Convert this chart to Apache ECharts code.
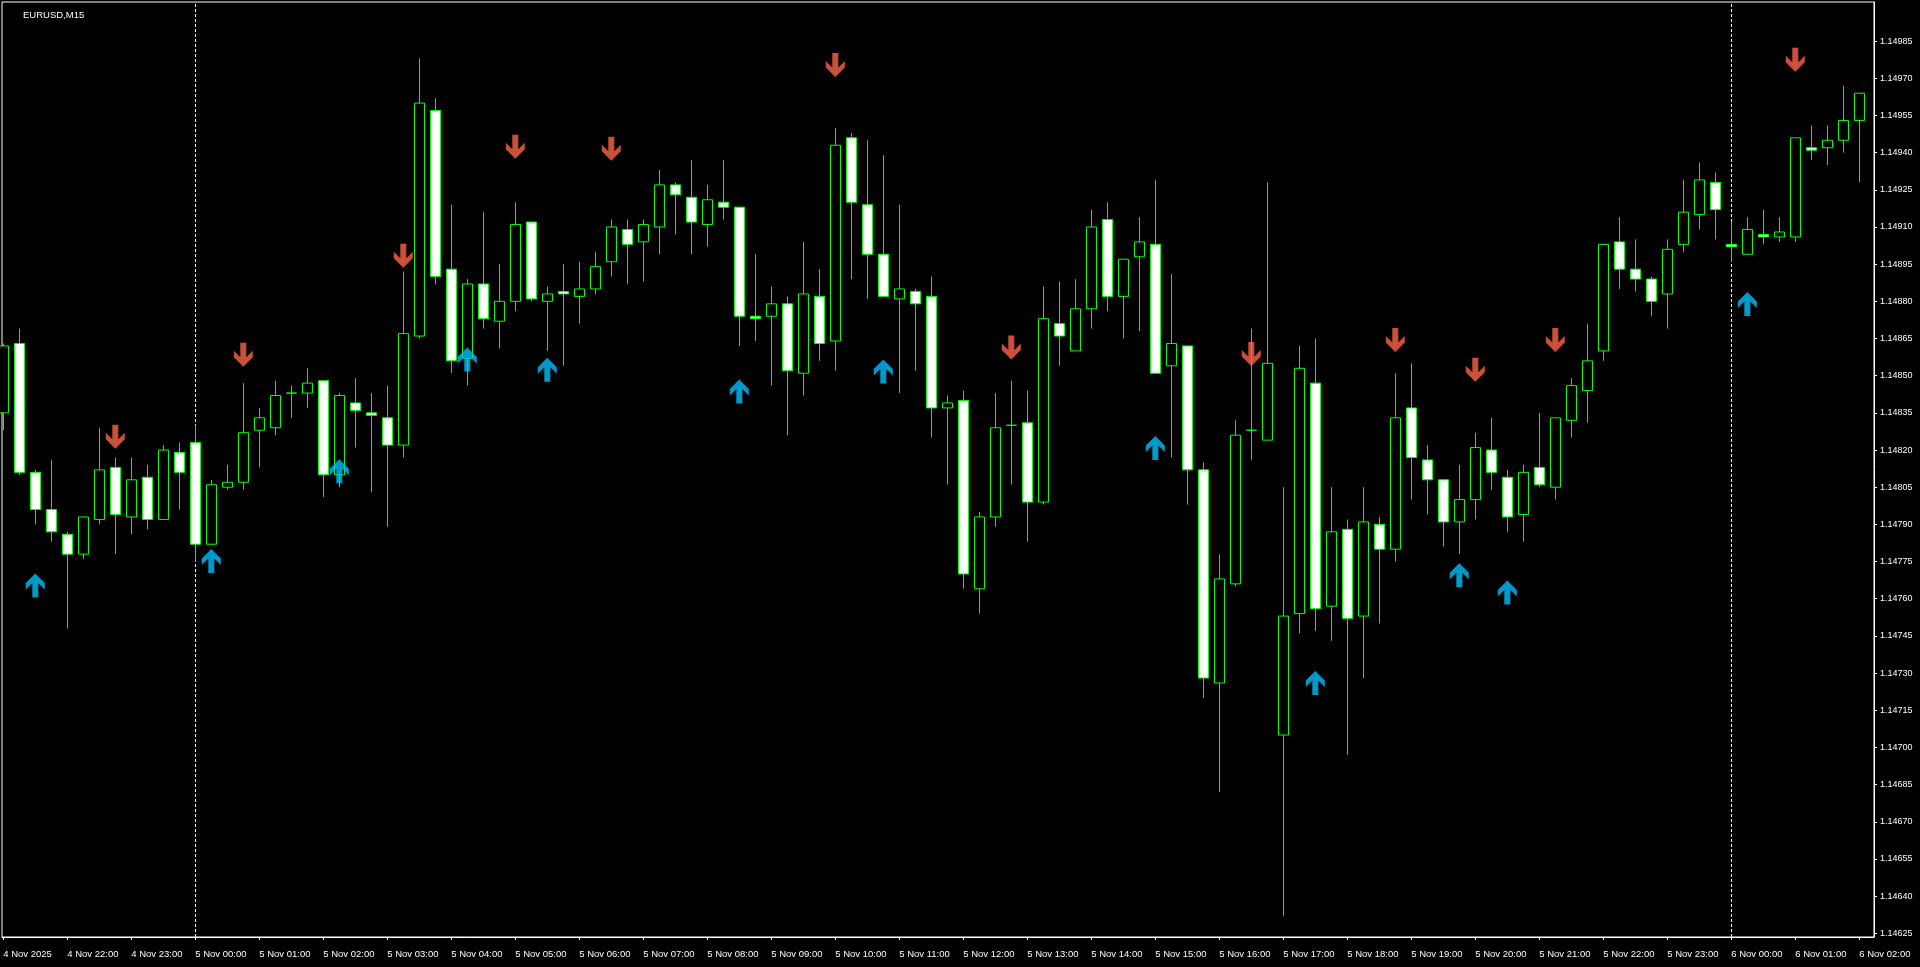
<!DOCTYPE html>
<html>
<head>
<meta charset="utf-8">
<script src="https://cdn.jsdelivr.net/npm/echarts@6/dist/echarts.min.js"></script>
<style>
html,body{margin:0;padding:0;background:#000;overflow:hidden}
#c{width:1920px;height:967px}
</style>
</head>
<body>
<div id="c"></div>
<script>
const symbolName = 'EURUSD,M15';

const opens = [
1.14835,1.14863,1.14811,1.14796,1.14786,1.14778,1.14792,1.14813,1.14793,1.14809,
1.14792,1.14819,1.14823,1.14782,1.14805,1.14807,1.14828,1.14829,1.14843,1.14843,
1.14848,1.14810,1.14839,1.14835,1.14833,1.14822,1.14866,1.14957,1.14893,1.14857,
1.14887,1.14872,1.14880,1.14912,1.14880,1.14884,1.14882,1.14885,1.14896,1.14909,
1.14904,1.14910,1.14927,1.14922,1.14911,1.14920,1.14918,1.14874,1.14874,1.14879,
1.14851,1.14882,1.14864,1.14946,1.14919,1.14899,1.14881,1.14884,1.14882,1.14837,
1.14840,1.14764,1.14793,1.14830,1.14831,1.14799,1.14871,1.14860,1.14877,1.14913,
1.14882,1.14898,1.14903,1.14854,1.14862,1.14812,1.14726,1.14766,1.14828,1.14824,
1.14705,1.14754,1.14847,1.14757,1.14788,1.14753,1.14790,1.14780,1.14837,1.14816,
1.14808,1.14791,1.14800,1.14820,1.14809,1.14794,1.14813,1.14805,1.14832,1.14844,
1.14860,1.14904,1.14893,1.14889,1.14883,1.14903,1.14915,1.14928,1.14903,1.14899,
1.14907,1.14906,1.14906,1.14942,1.14942,1.14945,1.14953
];
const highs = [
1.14863,1.14869,1.14812,1.14816,1.14787,1.14793,1.14829,1.14817,1.14817,1.14814,
1.14822,1.14823,1.14830,1.14808,1.14814,1.14847,1.14837,1.14848,1.14846,1.14853,
1.14848,1.14843,1.14849,1.14843,1.14846,1.14892,1.14978,1.14962,1.14919,1.14889,
1.14916,1.14895,1.14920,1.14912,1.14886,1.14895,1.14896,1.14900,1.14913,1.14913,
1.14913,1.14933,1.14928,1.14937,1.14927,1.14937,1.14918,1.14899,1.14886,1.14882,
1.14904,1.14893,1.14950,1.14948,1.14945,1.14939,1.14919,1.14885,1.14890,1.14842,
1.14844,1.14795,1.14843,1.14848,1.14844,1.14886,1.14888,1.14889,1.14917,1.14920,
1.14897,1.14914,1.14929,1.14891,1.14862,1.14815,1.14778,1.14832,1.14869,1.14928,
1.14805,1.14862,1.14865,1.14805,1.14792,1.14805,1.14793,1.14851,1.14855,1.14822,
1.14808,1.14814,1.14827,1.14833,1.14812,1.14814,1.14835,1.14833,1.14849,1.14871,
1.14903,1.14914,1.14905,1.14890,1.14905,1.14929,1.14936,1.14932,1.14912,1.14914,
1.14917,1.14914,1.14946,1.14951,1.14951,1.14967,1.14964
];
const lows = [
1.14828,1.14810,1.14790,1.14783,1.14748,1.14776,1.14790,1.14778,1.14786,1.14788,
1.14792,1.14796,1.14775,1.14782,1.14804,1.14804,1.14813,1.14826,1.14833,1.14837,
1.14801,1.14805,1.14821,1.14803,1.14789,1.14817,1.14865,1.14887,1.14851,1.14846,
1.14869,1.14861,1.14876,1.14880,1.14860,1.14854,1.14871,1.14883,1.14890,1.14887,
1.14888,1.14899,1.14907,1.14899,1.14902,1.14913,1.14862,1.14864,1.14846,1.14826,
1.14842,1.14856,1.14852,1.14889,1.14881,1.14882,1.14843,1.14852,1.14825,1.14806,
1.14764,1.14754,1.14789,1.14806,1.14783,1.14798,1.14854,1.14860,1.14869,1.14876,
1.14865,1.14868,1.14851,1.14817,1.14798,1.14720,1.14682,1.14765,1.14816,1.14824,
1.14632,1.14746,1.14747,1.14743,1.14697,1.14728,1.14750,1.14775,1.14800,1.14794,
1.14781,1.14778,1.14792,1.14804,1.14787,1.14783,1.14805,1.14800,1.14825,1.14831,
1.14856,1.14885,1.14884,1.14874,1.14869,1.14900,1.14909,1.14905,1.14896,1.14899,
1.14903,1.14904,1.14904,1.14937,1.14935,1.14940,1.14928
];
const closes = [
1.14862,1.14811,1.14796,1.14787,1.14778,1.14793,1.14812,1.14794,1.14808,1.14792,
1.14820,1.14811,1.14782,1.14806,1.14807,1.14827,1.14833,1.14842,1.14843,1.14847,
1.14810,1.14842,1.14836,1.14834,1.14822,1.14867,1.14960,1.14890,1.14856,1.14887,
1.14873,1.14880,1.14911,1.14881,1.14883,1.14883,1.14885,1.14894,1.14910,1.14903,
1.14911,1.14927,1.14923,1.14912,1.14921,1.14918,1.14874,1.14873,1.14879,1.14852,
1.14883,1.14863,1.14943,1.14920,1.14899,1.14882,1.14885,1.14879,1.14837,1.14839,
1.14770,1.14793,1.14829,1.14830,1.14799,1.14873,1.14866,1.14877,1.14910,1.14882,
1.14897,1.14904,1.14851,1.14863,1.14812,1.14728,1.14768,1.14826,1.14828,1.14855,
1.14753,1.14853,1.14756,1.14787,1.14752,1.14791,1.14780,1.14833,1.14817,1.14808,
1.14791,1.14800,1.14821,1.14811,1.14793,1.14811,1.14806,1.14833,1.14846,1.14856,
1.14903,1.14893,1.14889,1.14880,1.14901,1.14916,1.14929,1.14917,1.14902,1.14909,
1.14906,1.14908,1.14946,1.14941,1.14945,1.14953,1.14964
];

const timeTickIndex = [0,4,8,12,16,20,24,28,32,36,40,44,48,52,56,60,64,68,72,76,80,84,88,92,96,100,104,108,112,116];
const timeTickLabels = [
'4 Nov 2025','4 Nov 22:00','4 Nov 23:00','5 Nov 00:00','5 Nov 01:00','5 Nov 02:00','5 Nov 03:00','5 Nov 04:00',
'5 Nov 05:00','5 Nov 06:00','5 Nov 07:00','5 Nov 08:00','5 Nov 09:00','5 Nov 10:00','5 Nov 11:00','5 Nov 12:00',
'5 Nov 13:00','5 Nov 14:00','5 Nov 15:00','5 Nov 16:00','5 Nov 17:00','5 Nov 18:00','5 Nov 19:00','5 Nov 20:00',
'5 Nov 21:00','5 Nov 22:00','5 Nov 23:00','6 Nov 00:00','6 Nov 01:00','6 Nov 02:00'
];
const priceTicks = [
1.14625,1.14640,1.14655,1.14670,1.14685,1.14700,1.14715,1.14730,1.14745,1.14760,1.14775,1.14790,1.14805,
1.14820,1.14835,1.14850,1.14865,1.14880,1.14895,1.14910,1.14925,1.14940,1.14955,1.14970,1.14985
];
const separatorIndex = [12, 108];

const buyArrowIndex = [2,13,21,29,34,46,55,72,82,91,94,109];
const buyArrowPrice = [1.147653,1.147752,1.148114,1.148565,1.148524,1.148436,1.148517,1.148208,1.147260,1.147695,1.147625,1.148789];
const sellArrowIndex = [7,15,25,32,38,52,63,78,87,92,97,112];
const sellArrowPrice = [1.148254,1.148585,1.148984,1.149424,1.149416,1.149754,1.148614,1.148588,1.148644,1.148524,1.148644,1.149775];

const upPath = 'path://M9.5 0 L19 9.5 L19 16 L12.5 9.5 L12.5 24 L6.5 24 L6.5 9.5 L0 16 L0 9.5 Z';
const downPath = 'path://M9.5 24 L19 14.5 L19 8 L12.5 14.5 L12.5 0 L6.5 0 L6.5 14.5 L0 8 L0 14.5 Z';

const FONT = 'Liberation Sans';
const candleData = opens.map((o, i) => [i, o, closes[i], lows[i], highs[i]]);

const chart = echarts.init(document.getElementById('c'), null, {renderer: 'canvas'});
chart.setOption({
  backgroundColor: '#000',
  animation: false,
  title: {
    text: symbolName, left: 18, top: 5,
    textStyle: {color: '#ffffff', fontSize: 9.5, fontWeight: 'normal', fontFamily: FONT}
  },
  grid: {left: 2, top: 2, width: 1872, height: 935, show: true, borderColor: '#ffffff', borderWidth: 1, backgroundColor: '#000'},
  xAxis: {
    type: 'value', min: -0.08125, max: 116.91875,
    axisLine: {show: true, onZero: false, lineStyle: {color: '#ffffff', width: 1}},
    axisTick: {show: true, customValues: timeTickIndex, length: 3, lineStyle: {color: '#ffffff'}},
    axisLabel: {
      customValues: timeTickIndex,
      formatter: v => { const k = timeTickIndex.indexOf(Math.round(v)); return k >= 0 ? timeTickLabels[k] : ''; },
      color: '#ffffff', fontSize: 9.5, fontFamily: FONT, align: 'left', margin: 12
    },
    splitLine: {show: false}
  },
  yAxis: {
    type: 'value', position: 'right', min: 1.146235, max: 1.150008, scale: true,
    axisLine: {show: true, onZero: false, lineStyle: {color: '#ffffff', width: 1}},
    axisTick: {show: true, inside: false, customValues: priceTicks, length: 3, lineStyle: {color: '#ffffff'}},
    axisLabel: {customValues: priceTicks, formatter: v => v.toFixed(5), color: '#ffffff', fontSize: 9, fontFamily: FONT, margin: 6},
    splitLine: {show: false}
  },
  series: [
    {
      type: 'candlestick', data: candleData, barWidth: 10, z: 3, silent: true,
      itemStyle: {color: '#000000', color0: '#ffffff', borderColor: '#00ff00', borderColor0: '#00ff00', borderColorDoji: '#00ff00', borderWidth: 1},
      markLine: {
        silent: true, symbol: ['none', 'none'], z: 1, animation: false,
        label: {show: false},
        lineStyle: {color: '#ffffff', type: [3, 2], width: 1},
        data: separatorIndex.map(v => ({xAxis: v}))
      }
    },
    {
      type: 'scatter', z: 4, silent: true,
      data: buyArrowIndex.map((v, k) => [v, buyArrowPrice[k]]),
      symbol: upPath, symbolSize: [19, 24],
      itemStyle: {color: '#00bfff'}
    },
    {
      type: 'scatter', z: 4, silent: true,
      data: sellArrowIndex.map((v, k) => [v, sellArrowPrice[k]]),
      symbol: downPath, symbolSize: [19, 24],
      itemStyle: {color: '#ff6347'}
    }
  ]
});
</script>
</body>
</html>
